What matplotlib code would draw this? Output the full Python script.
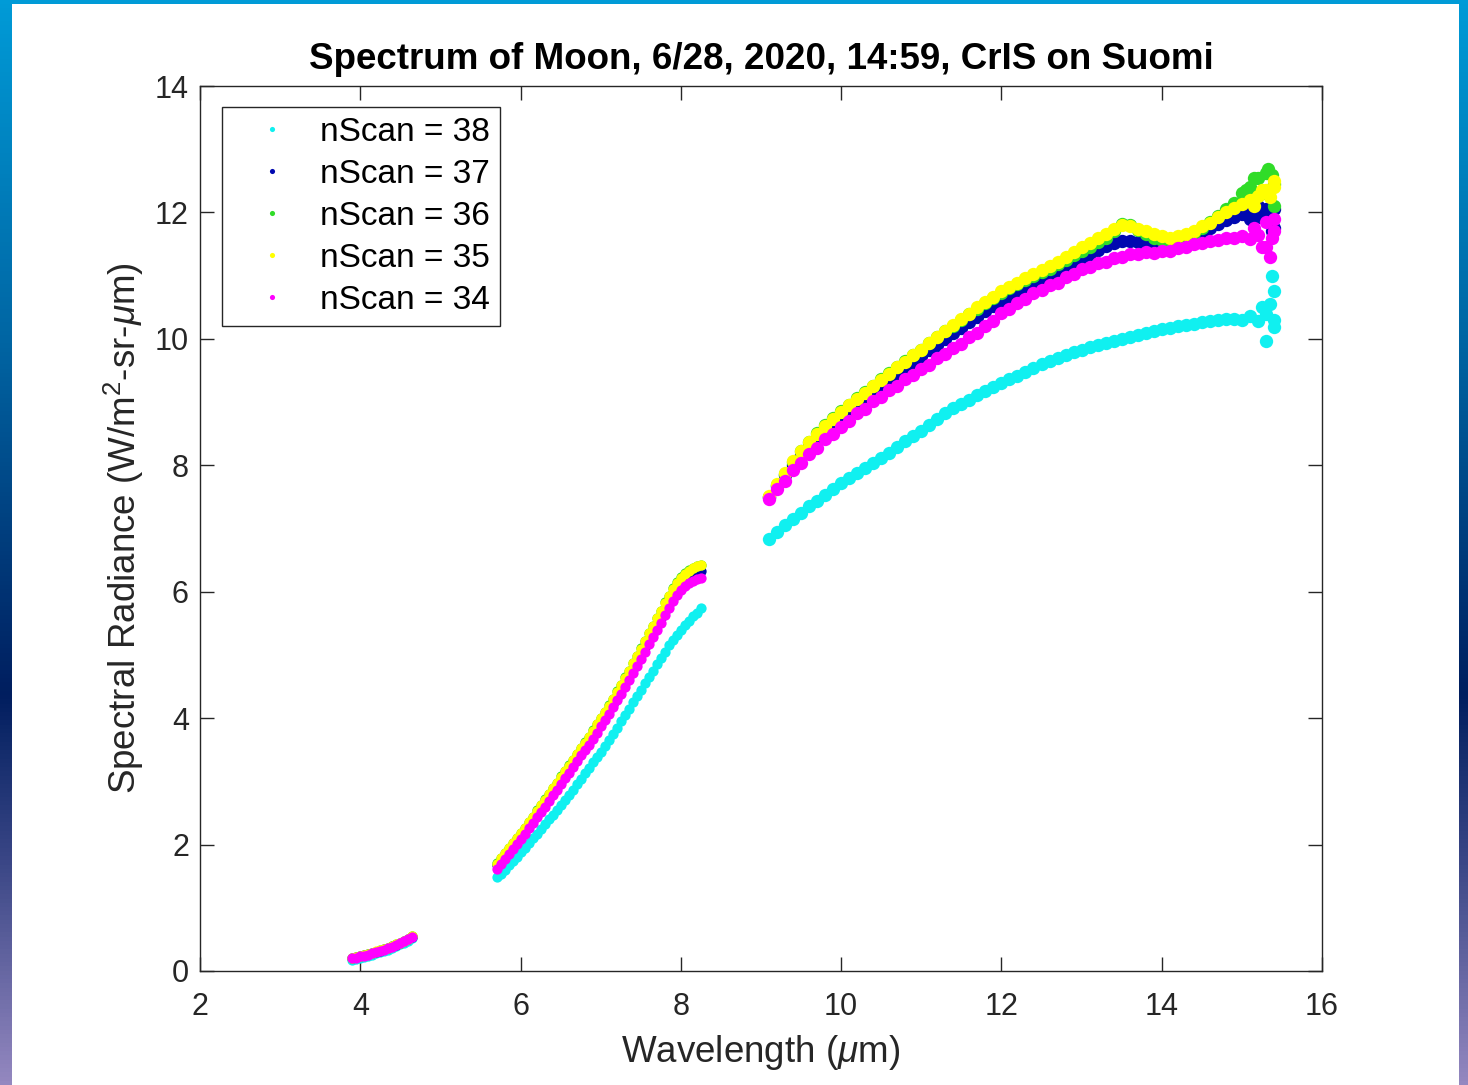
import numpy as np
import matplotlib
matplotlib.use("Agg")
import matplotlib.pyplot as plt
from matplotlib.patches import Rectangle
from matplotlib.colors import LinearSegmentedColormap

plt.rcParams['font.family'] = ['Liberation Sans', 'DejaVu Sans']
plt.rcParams['mathtext.fontset'] = 'custom'
plt.rcParams['mathtext.rm'] = 'Liberation Sans'
plt.rcParams['mathtext.it'] = 'Liberation Sans:italic'

# ---------------- data ----------------
title = "Spectrum of Moon, 6/28, 2020, 14:59, CrIS on Suomi"
labels = ["nScan = 38", "nScan = 37", "nScan = 36", "nScan = 35", "nScan = 34"]
colors = ["#10F0F0", "#0008B0", "#30DC28", "#FFFF00", "#FF00FF"]

# wavelength grids of the three CrIS bands (um)
wl_sw = np.round(np.arange(3.90, 4.651, 0.05), 3)   # 16
wl_mw = np.round(np.arange(5.70, 8.251, 0.05), 3)   # 52
wl_lw = np.round(np.arange(9.10, 15.41, 0.10), 3)   # 64

# nScan = 38 (cyan)
s38_sw = [0.18, 0.19, 0.21, 0.225, 0.24, 0.26, 0.28, 0.30, 0.32, 0.34, 0.365, 0.39, 0.42, 0.45, 0.48, 0.52]
s38_mw = [1.48, 1.54, 1.60, 1.67, 1.74, 1.81, 1.88, 1.95, 2.02, 2.10,
          2.17, 2.25, 2.32, 2.40, 2.47, 2.55, 2.62, 2.70, 2.79, 2.87,
          2.96, 3.04, 3.13, 3.21, 3.30, 3.38, 3.47, 3.56, 3.66, 3.75,
          3.85, 3.95, 4.05, 4.15, 4.25, 4.35, 4.45, 4.55, 4.65, 4.75,
          4.85, 4.95, 5.05, 5.15, 5.24, 5.32, 5.40, 5.47, 5.54, 5.61,
          5.67, 5.74]
s38_lw = [6.84, 6.95, 7.05, 7.15, 7.25, 7.35, 7.44, 7.53, 7.63, 7.72,
          7.80, 7.88, 7.96, 8.04, 8.12, 8.20, 8.29, 8.38, 8.46, 8.55,
          8.64, 8.73, 8.82, 8.90, 8.97, 9.04, 9.11, 9.18, 9.24, 9.30,
          9.36, 9.42, 9.48, 9.54, 9.60, 9.65, 9.70, 9.75, 9.79, 9.83,
          9.87, 9.90, 9.94, 9.97, 10.00, 10.03, 10.06, 10.09, 10.12, 10.15,
          10.17, 10.20, 10.22, 10.24, 10.26, 10.28, 10.30, 10.31, 10.32, 10.30,
          10.36, 10.28, 10.40, 10.30]
s38_tail_x = [15.25, 15.30, 15.35, 15.38, 15.40, 15.40]
s38_tail_y = [10.50, 9.97, 10.55, 11.00, 10.75, 10.18]

# nScan = 37 (blue)
s37_sw = [0.20, 0.215, 0.23, 0.25, 0.265, 0.285, 0.30, 0.32, 0.345, 0.365, 0.39, 0.415, 0.445, 0.475, 0.505, 0.545]
s37_mw = [1.67, 1.74, 1.82, 1.90, 1.98, 2.06, 2.14, 2.22, 2.31, 2.39,
          2.48, 2.56, 2.65, 2.74, 2.83, 2.92, 3.01, 3.10, 3.19, 3.28,
          3.37, 3.46, 3.55, 3.64, 3.73, 3.83, 3.93, 4.03, 4.13, 4.23,
          4.34, 4.44, 4.55, 4.66, 4.77, 4.89, 5.01, 5.12, 5.24, 5.35,
          5.47, 5.58, 5.70, 5.81, 5.92, 6.02, 6.12, 6.18, 6.24, 6.28,
          6.31, 6.33]
s37_lw = [7.50, 7.67, 7.84, 8.00, 8.16, 8.30, 8.43, 8.55, 8.67, 8.78,
          8.88, 8.98, 9.08, 9.18, 9.27, 9.37, 9.46, 9.55, 9.64, 9.73,
          9.82, 9.91, 10.00, 10.09, 10.17, 10.26, 10.35, 10.44, 10.52, 10.60,
          10.67, 10.74, 10.81, 10.88, 10.94, 11.00, 11.06, 11.13, 11.20, 11.27,
          11.34, 11.41, 11.47, 11.52, 11.55, 11.55, 11.53, 11.50, 11.48, 11.47,
          11.48, 11.50, 11.54, 11.60, 11.68, 11.75, 11.82, 11.88, 11.93, 11.97,
          12.00, 11.92, 12.05, 11.75]
s37_tail_x = [15.10, 15.20, 15.30, 15.35, 15.40, 15.38]
s37_tail_y = [11.90, 12.10, 12.30, 11.95, 12.05, 11.70]

# nScan = 36 (green)
s36_sw = [0.21, 0.22, 0.235, 0.25, 0.27, 0.285, 0.305, 0.325, 0.345, 0.37, 0.39, 0.42, 0.45, 0.48, 0.51, 0.55]
s36_mw = [1.71, 1.79, 1.86, 1.95, 2.03, 2.10, 2.19, 2.27, 2.36, 2.44,
          2.54, 2.62, 2.72, 2.80, 2.90, 2.98, 3.08, 3.16, 3.26, 3.34,
          3.44, 3.52, 3.62, 3.70, 3.81, 3.90, 4.01, 4.10, 4.21, 4.31,
          4.43, 4.53, 4.65, 4.75, 4.88, 4.99, 5.11, 5.22, 5.35, 5.46,
          5.59, 5.70, 5.83, 5.94, 6.06, 6.15, 6.23, 6.29, 6.34, 6.37,
          6.41, 6.43]
s36_lw = [7.50, 7.69, 7.87, 8.05, 8.22, 8.37, 8.51, 8.63, 8.75, 8.86,
          8.96, 9.06, 9.16, 9.26, 9.36, 9.46, 9.56, 9.65, 9.74, 9.83,
          9.93, 10.03, 10.12, 10.21, 10.30, 10.39, 10.48, 10.57, 10.65, 10.72,
          10.80, 10.86, 10.93, 10.99, 11.05, 11.11, 11.18, 11.25, 11.32, 11.39,
          11.46, 11.53, 11.60, 11.70, 11.82, 11.80, 11.72, 11.66, 11.60, 11.56,
          11.55, 11.57, 11.62, 11.68, 11.76, 11.85, 11.95, 12.05, 12.15, 12.30,
          12.40, 12.55, 12.62, 12.45]
s36_tail_x = [15.05, 15.15, 15.25, 15.32, 15.38, 15.40]
s36_tail_y = [12.35, 12.55, 12.30, 12.68, 12.60, 12.10]

# nScan = 35 (yellow)
s35_sw = [0.21, 0.22, 0.24, 0.255, 0.27, 0.29, 0.31, 0.33, 0.35, 0.37, 0.395, 0.42, 0.45, 0.48, 0.51, 0.55]
s35_mw = [1.70, 1.78, 1.86, 1.94, 2.02, 2.10, 2.18, 2.27, 2.35, 2.44,
          2.53, 2.62, 2.71, 2.80, 2.89, 2.98, 3.07, 3.16, 3.25, 3.34,
          3.43, 3.52, 3.61, 3.70, 3.80, 3.90, 4.00, 4.10, 4.20, 4.31,
          4.42, 4.53, 4.64, 4.75, 4.87, 4.99, 5.10, 5.22, 5.34, 5.46,
          5.58, 5.70, 5.82, 5.94, 6.05, 6.14, 6.22, 6.28, 6.33, 6.37,
          6.40, 6.42]
s35_lw = [7.52, 7.70, 7.88, 8.06, 8.23, 8.37, 8.50, 8.62, 8.74, 8.85,
          8.95, 9.05, 9.15, 9.25, 9.35, 9.45, 9.55, 9.64, 9.74, 9.83,
          9.93, 10.03, 10.13, 10.22, 10.31, 10.40, 10.50, 10.59, 10.67, 10.75,
          10.82, 10.89, 10.96, 11.03, 11.09, 11.15, 11.22, 11.30, 11.38, 11.45,
          11.52, 11.59, 11.66, 11.74, 11.80, 11.78, 11.74, 11.71, 11.66, 11.62,
          11.60, 11.62, 11.66, 11.71, 11.78, 11.84, 11.92, 12.00, 12.07, 12.14,
          12.20, 12.26, 12.35, 12.40]
s35_tail_x = [15.15, 15.25, 15.35, 15.40]
s35_tail_y = [12.10, 12.35, 12.25, 12.50]

# nScan = 34 (magenta)
s34_sw = [0.20, 0.21, 0.23, 0.245, 0.26, 0.28, 0.30, 0.32, 0.34, 0.36, 0.385, 0.41, 0.44, 0.47, 0.50, 0.54]
s34_mw = [1.62, 1.69, 1.77, 1.85, 1.93, 2.01, 2.09, 2.17, 2.26, 2.34,
          2.43, 2.51, 2.60, 2.69, 2.78, 2.87, 2.96, 3.05, 3.14, 3.23,
          3.32, 3.41, 3.50, 3.58, 3.67, 3.77, 3.87, 3.97, 4.07, 4.17,
          4.28, 4.38, 4.49, 4.60, 4.71, 4.82, 4.94, 5.05, 5.17, 5.28,
          5.40, 5.51, 5.63, 5.74, 5.85, 5.95, 6.03, 6.09, 6.14, 6.17,
          6.20, 6.22]
s34_lw = [7.46, 7.63, 7.75, 7.92, 8.04, 8.18, 8.28, 8.41, 8.49, 8.61,
          8.70, 8.82, 8.89, 9.01, 9.08, 9.19, 9.26, 9.37, 9.43, 9.53,
          9.59, 9.69, 9.76, 9.86, 9.92, 10.03, 10.09, 10.21, 10.29, 10.41,
          10.47, 10.57, 10.63, 10.73, 10.77, 10.85, 10.89, 10.98, 11.02, 11.10,
          11.13, 11.20, 11.22, 11.28, 11.29, 11.34, 11.34, 11.37, 11.36, 11.39,
          11.39, 11.44, 11.45, 11.50, 11.51, 11.55, 11.56, 11.60, 11.59, 11.63,
          11.58, 11.64, 11.45, 11.70]
s34_tail_x = [15.15, 15.25, 15.30, 15.35, 15.38, 15.40]
s34_tail_y = [11.75, 11.45, 11.85, 11.30, 11.60, 11.90]

series = [
    (s38_sw, s38_mw, s38_lw, s38_tail_x, s38_tail_y),
    (s37_sw, s37_mw, s37_lw, s37_tail_x, s37_tail_y),
    (s36_sw, s36_mw, s36_lw, s36_tail_x, s36_tail_y),
    (s35_sw, s35_mw, s35_lw, s35_tail_x, s35_tail_y),
    (s34_sw, s34_mw, s34_lw, s34_tail_x, s34_tail_y),
]

# ---------------- figure ----------------
W, H = 1468, 1085
fig = plt.figure(figsize=(W / 100, H / 100), dpi=100)

# gradient background frame
bg = fig.add_axes([0, 0, 1, 1], zorder=-10)
bg.set_axis_off()
cmap = LinearSegmentedColormap.from_list(
    "frame",
    [(0.0, (0/255, 155/255, 215/255)),
     (0.32, (0/255, 100/255, 162/255)),
     (0.64, (0/255, 30/255, 95/255)),
     (0.80, (60/255, 72/255, 135/255)),
     (1.0, (148/255, 136/255, 192/255))])
grad = np.linspace(0, 1, 256).reshape(-1, 1)
bg.imshow(grad, cmap=cmap, aspect='auto', extent=[0, 1, 1, 0])
bg.set_xlim(0, 1)
bg.set_ylim(1, 0)
bg.add_patch(Rectangle((12 / W, 4 / H), (1459 - 12) / W, 1 - 4 / H,
                       facecolor='white', edgecolor='none'))

ax = fig.add_axes([200 / W, 1 - 971 / H, (1322 - 200) / W, (971 - 86) / H])

for (sw, mw, lw, tx, ty), c, lab in zip(series, colors, labels):
    x1 = np.concatenate([wl_sw, wl_mw])
    y1 = np.concatenate([sw, mw])
    ax.plot(x1, y1, linestyle='none', marker='o', markersize=7.4,
            markeredgewidth=0, color=c, label=lab)
    x2 = np.concatenate([wl_lw, tx])
    y2 = np.concatenate([lw, ty])
    ax.plot(x2, y2, linestyle='none', marker='o', markersize=9.6,
            markeredgewidth=0, color=c)

ax.set_xlim(2, 16)
ax.set_ylim(0, 14)
ax.set_xticks(np.arange(2, 17, 2))
ax.set_yticks(np.arange(0, 15, 2))

axc = '#262626'
for sp in ax.spines.values():
    sp.set_color(axc)
    sp.set_linewidth(1.0)
ax.tick_params(direction='in', length=10, width=1.0, colors=axc,
               labelsize=22, top=True, right=True, pad=8)
ax.tick_params(axis='x', pad=15)
for t in ax.get_xticklabels() + ax.get_yticklabels():
    t.set_color('#262626')

ax.set_title(title, fontsize=26.5, fontweight='bold', pad=12, color='black')
ax.set_xlabel(r"Wavelength ($\mu$m)", fontsize=26.5, color='#262626', labelpad=8)
ax.set_ylabel(r"Spectral Radiance (W/m$^2$-sr-$\mu$m)", fontsize=26.5,
              color='#262626', labelpad=6)

leg = ax.legend(loc='upper left', bbox_to_anchor=(22 / 1122, 1 - 21 / 885),
                borderaxespad=0, fontsize=24, markerscale=0.5,
                frameon=True, fancybox=False, framealpha=1,
                edgecolor='#262626', handlelength=2.4, handletextpad=0.25,
                labelspacing=0.33, borderpad=0.3)
leg.get_frame().set_linewidth(1.0)

fig.savefig("out.png", dpi=100)
